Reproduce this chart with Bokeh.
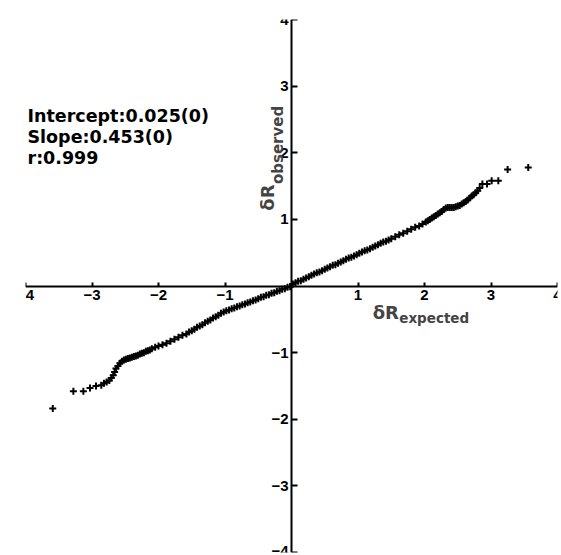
from bokeh.plotting import figure
from bokeh.models import FixedTicker, Label
from bokeh.embed import file_html
from bokeh.resources import INLINE

# ---- data (expected vs observed) ----
upper_x = [0.02, 0.06, 0.10, 0.14, 0.18, 0.22, 0.26, 0.30, 0.34, 0.38, 0.42, 0.46, 0.50, 0.54,
           0.58, 0.62, 0.66, 0.70, 0.74, 0.78, 0.82, 0.86, 0.90, 0.94, 0.98, 1.02, 1.06, 1.10,
           1.14, 1.18, 1.22, 1.26, 1.30, 1.34, 1.38, 1.42, 1.46, 1.50,
           1.56, 1.62, 1.68, 1.74, 1.80, 1.86, 1.92, 1.97,
           2.02, 2.05, 2.08, 2.11, 2.14, 2.17, 2.20, 2.23, 2.26, 2.29, 2.32, 2.35, 2.38, 2.41,
           2.44, 2.47, 2.50, 2.53, 2.56, 2.59, 2.62, 2.65, 2.68, 2.71, 2.74, 2.77, 2.80, 2.83,
           2.87, 2.94, 3.01, 3.11, 3.25, 3.56]
upper_y = [0.03, 0.05, 0.07, 0.08, 0.10, 0.12, 0.14, 0.16, 0.18, 0.20, 0.21, 0.23, 0.25, 0.27,
           0.29, 0.31, 0.32, 0.34, 0.36, 0.38, 0.40, 0.42, 0.43, 0.45, 0.47, 0.49, 0.51, 0.53,
           0.54, 0.56, 0.58, 0.60, 0.62, 0.64, 0.66, 0.67, 0.69, 0.71,
           0.74, 0.77, 0.79, 0.82, 0.85, 0.88, 0.90, 0.93,
           0.96, 0.98, 1.00, 1.02, 1.04, 1.06, 1.08, 1.10, 1.12, 1.15, 1.17, 1.18, 1.18, 1.18,
           1.18, 1.19, 1.20, 1.21, 1.23, 1.25, 1.27, 1.29, 1.32, 1.35, 1.37, 1.40, 1.43, 1.47,
           1.53, 1.53, 1.58, 1.58, 1.75, 1.78]

lower_x = [-0.02, -0.06, -0.10, -0.14, -0.18, -0.22, -0.26, -0.30, -0.34, -0.38, -0.42, -0.46,
           -0.50, -0.54, -0.58, -0.62, -0.66, -0.70, -0.74, -0.78, -0.82, -0.86, -0.90, -0.94,
           -0.98, -1.02, -1.06, -1.10, -1.14, -1.18, -1.22, -1.26, -1.30, -1.34, -1.38, -1.42,
           -1.46, -1.50, -1.54, -1.58,
           -1.64, -1.70, -1.76, -1.82, -1.88, -1.94, -2.00, -2.05,
           -2.10, -2.13, -2.16, -2.19, -2.22, -2.25, -2.28, -2.31, -2.34, -2.37, -2.40, -2.43,
           -2.46, -2.49, -2.52, -2.55, -2.58, -2.61, -2.64, -2.66, -2.68, -2.71, -2.74,
           -2.78, -2.82, -2.86, -2.94, -3.03, -3.13, -3.28, -3.59]
lower_y = [-0.01, -0.02, -0.04, -0.05, -0.07, -0.08, -0.10, -0.11, -0.13, -0.14, -0.16, -0.17,
           -0.19, -0.21, -0.22, -0.24, -0.25, -0.27, -0.28, -0.30, -0.31, -0.33, -0.34, -0.36,
           -0.37, -0.39, -0.41, -0.44, -0.46, -0.48, -0.51, -0.53, -0.55, -0.58, -0.60, -0.62,
           -0.65, -0.67, -0.69, -0.72,
           -0.74, -0.77, -0.80, -0.83, -0.86, -0.88, -0.90, -0.92,
           -0.94, -0.96, -0.97, -0.98, -1.00, -1.01, -1.02, -1.04, -1.05, -1.06, -1.07, -1.08,
           -1.09, -1.10, -1.11, -1.13, -1.16, -1.20, -1.24, -1.29, -1.34, -1.38, -1.42,
           -1.44, -1.46, -1.49, -1.50, -1.53, -1.58, -1.58, -1.84]

tick_values = [-4, -3, -2, -1, 1, 2, 3, 4]
tick_labels = ["\u22124", "\u22123", "\u22122", "\u22121", "1", "2", "3", "4"]

stats_lines = ["Intercept:0.025(0)", "Slope:0.453(0)", "r:0.999"]

p = figure(frame_width=532, frame_height=533, x_range=(-4, 4), y_range=(-4, 4),
           output_backend="svg", toolbar_location=None,
           min_border_left=25, min_border_right=4, min_border_top=19, min_border_bottom=3)
p.outline_line_color = None
p.xgrid.visible = False
p.ygrid.visible = False
p.background_fill_color = "white"
p.border_fill_color = "white"

overrides = {v: s for v, s in zip(tick_values, tick_labels)}
for ax in (p.xaxis[0], p.yaxis[0]):
    ax.fixed_location = 0
    ax.ticker = FixedTicker(ticks=tick_values)
    ax.major_label_overrides = overrides
    ax.minor_tick_line_color = None
    ax.axis_line_width = 2
    ax.axis_line_color = "black"
    ax.major_tick_line_width = 2
    ax.major_tick_line_color = "black"
    ax.major_tick_out = 0
    ax.major_label_text_font = "Liberation Sans"
    ax.major_label_text_font_style = "bold"
    ax.major_label_text_font_size = "15px"
    ax.major_label_text_color = "black"

p.xaxis[0].major_tick_in = 4
p.xaxis[0].major_label_standoff = 4
p.yaxis[0].major_tick_in = 6
p.yaxis[0].major_label_standoff = 3

p.scatter(upper_x, upper_y, marker="cross", size=7, line_width=2, color="black")
p.scatter(lower_x, lower_y, marker="cross", size=7, line_width=2, color="black")

FONT = "DejaVu Sans"

# stats annotation
for i, s in enumerate(stats_lines):
    p.add_layout(Label(x=-3.97, y=2.545 - i * 0.31, text=s, text_font=FONT,
                       text_font_style="bold", text_font_size="17.5px", text_color="black",
                       text_baseline="alphabetic", text_align="left"))

# x axis title: δR_expected
p.add_layout(Label(x=1.22, y=-0.405, text="\u03b4R", text_font=FONT, text_font_style="bold",
                   text_font_size="18px", text_baseline="alphabetic", text_align="left"))
p.add_layout(Label(x=1.62, y=-0.475, text="expected", text_font=FONT, text_font_style="bold",
                   text_font_size="13.5px", text_baseline="alphabetic", text_align="left"))

# y axis title: δR_observed (rotated)
p.add_layout(Label(x=-0.36, y=1.13, text="\u03b4R", text_font=FONT, text_font_style="bold",
                   text_font_size="18px", text_baseline="alphabetic", text_align="left",
                   angle=1.5708))
p.add_layout(Label(x=-0.21, y=1.53, text="observed", text_font=FONT, text_font_style="bold",
                   text_font_size="15px", text_baseline="alphabetic", text_align="left",
                   angle=1.5708))

open("out.html", "w").write(file_html(p, INLINE))
